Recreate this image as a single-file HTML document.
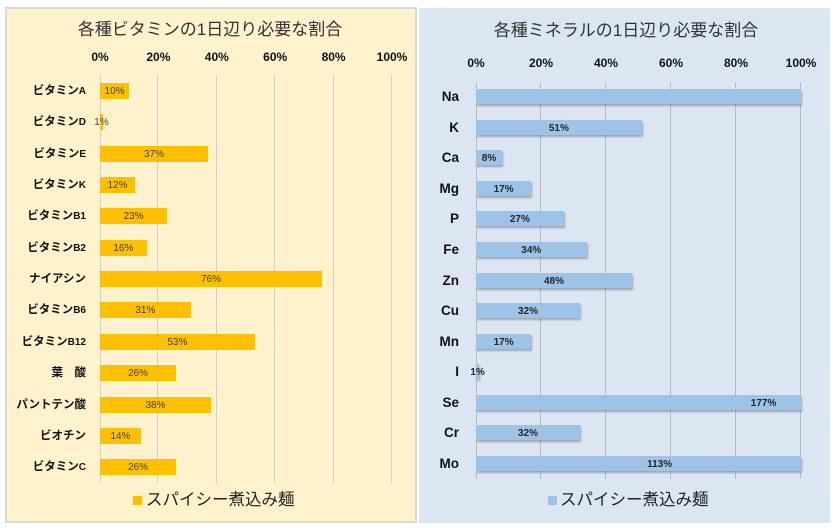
<!DOCTYPE html>
<html><head><meta charset="utf-8">
<style>
*{margin:0;padding:0;box-sizing:border-box}
body{width:839px;height:528px;background:#fff;position:relative;overflow:hidden;font-family:"Liberation Sans","Noto Sans CJK JP",sans-serif}
.a{position:absolute}
.pl{left:5px;top:7px;width:412px;height:516px;background:#fff2cc;border:2px solid #d9d9d9}
.pr{left:419px;top:8px;width:411px;height:515px;background:#dce6f2}
.title{font-family:"Liberation Sans","Noto Sans CJK JP",sans-serif;font-size:17px;color:#333;white-space:nowrap;line-height:22px;height:22px;text-align:center;width:400px}
.tick{font-weight:bold;font-size:12px;color:#111;width:50px;text-align:center;line-height:16px;height:16px}
.gl{width:1px;background:#d0d0d0}
.gr{width:1px;background:#bcbcbc}
.cl{font-weight:bold;font-size:11.5px;color:#111;width:90px;text-align:right;line-height:20px;height:20px;white-space:nowrap}
.cl b{font-size:10px;font-family:"Liberation Sans",sans-serif}
.cr{font-weight:bold;font-size:13.5px;color:#111;width:50px;text-align:right;line-height:20px;height:20px}
.bl{background:#ffc000;height:16px}
.br{background:#9dc3e6;height:15px;box-shadow:1px 2px 2px rgba(0,0,0,0.28)}
.ll{font-size:10px;color:#404040;width:60px;text-align:center;line-height:16px;height:16px;margin-top:1px}
.lr{font-size:10px;font-weight:bold;color:#262626;width:60px;text-align:center;line-height:15px;height:15px;margin-top:1px}
.leg{font-size:16.5px;color:#222;white-space:nowrap;line-height:20px;height:20px}
</style></head><body>
<div class="a pl"></div>
<div class="a pr"></div>

<!-- LEFT CHART -->
<div class="a title" style="left:10px;top:19px;">各種ビタミンの1日辺り必要な割合</div>
<div class="a tick" style="left:75px;top:49px">0%</div>
<div class="a tick" style="left:133.4px;top:49px">20%</div>
<div class="a tick" style="left:191.8px;top:49px">40%</div>
<div class="a tick" style="left:250.2px;top:49px">60%</div>
<div class="a tick" style="left:308.6px;top:49px">80%</div>
<div class="a tick" style="left:367px;top:49px">100%</div>

<div class="a gl" style="left:100px;top:75px;height:408px"></div>
<div class="a gl" style="left:157px;top:75px;height:408px"></div>
<div class="a gl" style="left:216px;top:75px;height:408px"></div>
<div class="a gl" style="left:274px;top:75px;height:408px"></div>
<div class="a gl" style="left:333px;top:75px;height:408px"></div>
<div class="a gl" style="left:391px;top:75px;height:408px"></div>

<div class="a cl" style="left:-4px;top:80.7px">ビタミン<b>A</b></div>
<div class="a cl" style="left:-4px;top:112.1px">ビタミン<b>D</b></div>
<div class="a cl" style="left:-4px;top:143.5px">ビタミン<b>E</b></div>
<div class="a cl" style="left:-4px;top:174.8px">ビタミン<b>K</b></div>
<div class="a cl" style="left:-4px;top:206.2px">ビタミン<b>B1</b></div>
<div class="a cl" style="left:-4px;top:237.6px">ビタミン<b>B2</b></div>
<div class="a cl" style="left:-4px;top:269px">ナイアシン</div>
<div class="a cl" style="left:-4px;top:300.4px">ビタミン<b>B6</b></div>
<div class="a cl" style="left:-4px;top:331.7px">ビタミン<b>B12</b></div>
<div class="a cl" style="left:-4px;top:363.1px">葉　酸</div>
<div class="a cl" style="left:-4px;top:394.5px">パントテン酸</div>
<div class="a cl" style="left:-4px;top:425.9px">ビオチン</div>
<div class="a cl" style="left:-4px;top:457.3px">ビタミン<b>C</b></div>

<div class="a bl" style="left:100px;top:82.7px;width:29.2px"></div>
<div class="a bl" style="left:100px;top:114.1px;width:2.9px"></div>
<div class="a bl" style="left:100px;top:145.5px;width:108px"></div>
<div class="a bl" style="left:100px;top:176.8px;width:35px"></div>
<div class="a bl" style="left:100px;top:208.2px;width:67.2px"></div>
<div class="a bl" style="left:100px;top:239.6px;width:46.7px"></div>
<div class="a bl" style="left:100px;top:271px;width:221.9px"></div>
<div class="a bl" style="left:100px;top:302.4px;width:90.5px"></div>
<div class="a bl" style="left:100px;top:333.7px;width:154.8px"></div>
<div class="a bl" style="left:100px;top:365.1px;width:75.9px"></div>
<div class="a bl" style="left:100px;top:396.5px;width:111px"></div>
<div class="a bl" style="left:100px;top:427.9px;width:40.9px"></div>
<div class="a bl" style="left:100px;top:459.3px;width:75.9px"></div>

<div class="a ll" style="left:84.6px;top:82.7px">10%</div>
<div class="a ll" style="left:71.5px;top:114.1px">1%</div>
<div class="a ll" style="left:124px;top:145.5px">37%</div>
<div class="a ll" style="left:87.5px;top:176.8px">12%</div>
<div class="a ll" style="left:103.6px;top:208.2px">23%</div>
<div class="a ll" style="left:93.4px;top:239.6px">16%</div>
<div class="a ll" style="left:181px;top:271px">76%</div>
<div class="a ll" style="left:115.3px;top:302.4px">31%</div>
<div class="a ll" style="left:147.4px;top:333.7px">53%</div>
<div class="a ll" style="left:108px;top:365.1px">26%</div>
<div class="a ll" style="left:125.5px;top:396.5px">38%</div>
<div class="a ll" style="left:90.5px;top:427.9px">14%</div>
<div class="a ll" style="left:108px;top:459.3px">26%</div>

<div class="a" style="left:133px;top:496px;width:9px;height:9px;background:#ffc000"></div>
<div class="a leg" style="left:146px;top:490px">スパイシー煮込み麺</div>

<!-- RIGHT CHART -->
<div class="a title" style="left:426px;top:19.5px;">各種ミネラルの1日辺り必要な割合</div>
<div class="a tick" style="left:451px;top:55px">0%</div>
<div class="a tick" style="left:516px;top:55px">20%</div>
<div class="a tick" style="left:581px;top:55px">40%</div>
<div class="a tick" style="left:646px;top:55px">60%</div>
<div class="a tick" style="left:711px;top:55px">80%</div>
<div class="a tick" style="left:776px;top:55px">100%</div>

<div class="a gr" style="left:475.5px;top:82px;height:397px"></div>
<div class="a gr" style="left:540px;top:82px;height:397px"></div>
<div class="a gr" style="left:605px;top:82px;height:397px"></div>
<div class="a gr" style="left:670px;top:82px;height:397px"></div>
<div class="a gr" style="left:735px;top:82px;height:397px"></div>
<div class="a gr" style="left:800px;top:82px;height:397px"></div>

<div class="a cr" style="left:409px;top:87.3px">Na</div>
<div class="a cr" style="left:409px;top:117.8px">K</div>
<div class="a cr" style="left:409px;top:148.4px">Ca</div>
<div class="a cr" style="left:409px;top:178.9px">Mg</div>
<div class="a cr" style="left:409px;top:209.4px">P</div>
<div class="a cr" style="left:409px;top:240px">Fe</div>
<div class="a cr" style="left:409px;top:270.5px">Zn</div>
<div class="a cr" style="left:409px;top:301px">Cu</div>
<div class="a cr" style="left:409px;top:331.6px">Mn</div>
<div class="a cr" style="left:409px;top:362.1px">I</div>
<div class="a cr" style="left:409px;top:392.7px">Se</div>
<div class="a cr" style="left:409px;top:423.2px">Cr</div>
<div class="a cr" style="left:409px;top:453.8px">Mo</div>

<div class="a br" style="left:476px;top:89.3px;width:325px"></div>
<div class="a br" style="left:476px;top:119.8px;width:165.8px"></div>
<div class="a br" style="left:476px;top:150.4px;width:26px"></div>
<div class="a br" style="left:476px;top:180.9px;width:55.3px"></div>
<div class="a br" style="left:476px;top:211.4px;width:87.8px"></div>
<div class="a br" style="left:476px;top:242px;width:110.5px"></div>
<div class="a br" style="left:476px;top:272.5px;width:156px"></div>
<div class="a br" style="left:476px;top:303px;width:104px"></div>
<div class="a br" style="left:476px;top:333.6px;width:55.3px"></div>
<div class="a br" style="left:476px;top:364.1px;width:3.3px"></div>
<div class="a br" style="left:476px;top:394.7px;width:325px"></div>
<div class="a br" style="left:476px;top:425.2px;width:104px"></div>
<div class="a br" style="left:476px;top:455.8px;width:325px"></div>

<div class="a lr" style="left:528.9px;top:119.8px">51%</div>
<div class="a lr" style="left:459px;top:150.4px">8%</div>
<div class="a lr" style="left:473.6px;top:180.9px">17%</div>
<div class="a lr" style="left:489.9px;top:211.4px">27%</div>
<div class="a lr" style="left:501.3px;top:242px">34%</div>
<div class="a lr" style="left:524px;top:272.5px">48%</div>
<div class="a lr" style="left:498px;top:303px">32%</div>
<div class="a lr" style="left:473.6px;top:333.6px">17%</div>
<div class="a lr" style="left:447.6px;top:364.1px">1%</div>
<div class="a lr" style="left:733.6px;top:394.7px">177%</div>
<div class="a lr" style="left:498px;top:425.2px">32%</div>
<div class="a lr" style="left:629.6px;top:455.8px">113%</div>

<div class="a" style="left:548px;top:496px;width:8.5px;height:9px;background:#9dc3e6"></div>
<div class="a leg" style="left:560px;top:490px">スパイシー煮込み麺</div>
</body></html>
